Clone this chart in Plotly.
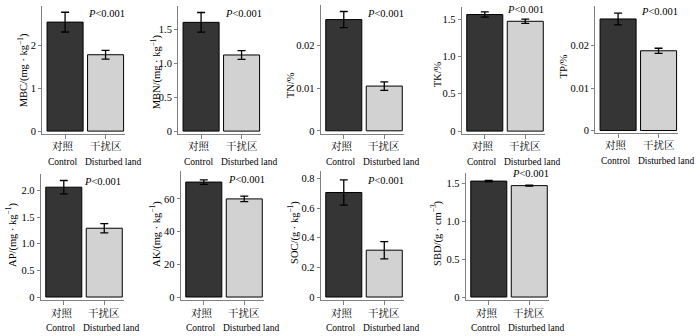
import plotly.graph_objects as go

# ---------------- data ----------------
cat_cn = ["对照", "干扰区"]
cat_en = ["Control", "Disturbed land"]
panel_names = ["MBC", "MBN", "TN", "TK", "TP", "AP", "AK", "SOC", "SBD"]
y_titles = [
    "MBC/(mg · kg<sup>−1</sup>)",
    "MBN/(mg · kg<sup>−1</sup>)",
    "TN/%",
    "TK/%",
    "TP/%",
    "AP/(mg · kg<sup>−1</sup>)",
    "AK/(mg · kg<sup>−1</sup>)",
    "SOC/(g · kg<sup>−1</sup>)",
    "SBD/(g · cm<sup>−3</sup>)",
]
mbc = [2.54, 1.78]
mbc_err = [0.23, 0.10]
mbn = [1.60, 1.12]
mbn_err = [0.145, 0.065]
tn = [0.0261, 0.0105]
tn_err = [0.0019, 0.0010]
tk = [1.56, 1.47]
tk_err = [0.035, 0.028]
tp = [0.0263, 0.0188]
tp_err = [0.0014, 0.0006]
ap = [2.06, 1.29]
ap_err = [0.125, 0.085]
ak = [70.3, 60.0]
ak_err = [1.4, 1.7]
soc = [0.705, 0.316]
soc_err = [0.085, 0.058]
sbd = [1.535, 1.475]
sbd_err = [0.010, 0.006]
values = [mbc, mbn, tn, tk, tp, ap, ak, soc, sbd]
errors = [mbc_err, mbn_err, tn_err, tk_err, tp_err, ap_err, ak_err, soc_err, sbd_err]
p_label = "<i>P</i>&lt;0.001"

tickvals = [
    [0, 1, 2],
    [0, 0.5, 1.0, 1.5],
    [0, 0.01, 0.02],
    [0, 0.5, 1.0, 1.5],
    [0, 0.01, 0.02],
    [0, 0.5, 1.0, 1.5, 2.0],
    [0, 20, 40, 60],
    [0, 0.2, 0.4, 0.6, 0.8],
    [0, 0.5, 1.0, 1.5],
]
ticktexts = [
    ["0", "1", "2"],
    ["0", "0.5", "1.0", "1.5"],
    ["0", "0.01", "0.02"],
    ["0", "0.5", "1.0", "1.5"],
    ["0", "0.01", "0.02"],
    ["0", "0.5", "1.0", "1.5", "2.0"],
    ["0", "20", "40", "60"],
    ["0", "0.2", "0.4", "0.6", "0.8"],
    ["0", "0.5", "1.0", "1.5"],
]

# ---------------- layout (pixels) ----------------
W, H = 700, 336
axis_left = [42, 178, 320.7, 461.7, 595, 40.7, 180.7, 320.7, 465.7]
axis_w = 83
# (top px, bottom px, zero px, px per unit)
yscale = [
    (6, 135, 132.3, 43.3),
    (6, 135, 132.3, 68.6),
    (5, 135, 132.0, 4300),
    (6.7, 135, 132.3, 75.4),
    (6, 134, 131.7, 4280),
    (176, 303, 299.7, 53.8),
    (173, 303, 299.7, 1.65),
    (173, 303, 299.7, 149.6),
    (175, 303, 299.7, 76.2),
]
title_pos = [(23, 71), (156, 73), (290, 86), (437, 75), (563, 67),
             (11, 237), (155, 236), (293, 235), (436, 235)]
p_pos = [(106, 14), (243, 14), (385, 14), (525, 10), (659, 12),
         (102, 183), (246, 181), (385, 182), (530, 175)]

FONT = "Liberation Serif, Times New Roman, Noto Serif CJK SC, Noto Sans CJK SC, serif"
CJK = "Noto Serif CJK SC, Noto Sans CJK SC, serif"
dark = "#353535"
light = "#d2d2d2"
axis_col = "#808080"

fig = go.Figure()
annotations = []
for i in range(9):
    n = "" if i == 0 else str(i + 1)
    fig.add_trace(go.Bar(
        x=[0, 1], y=values[i],
        width=0.89,
        marker=dict(color=[dark, light], line=dict(color="black", width=1)),
        error_y=dict(type="data", array=errors[i], visible=True,
                     color="black", thickness=1.3, width=4),
        xaxis="x" + n, yaxis="y" + n, showlegend=False,
    ))
    top, bot, zero, upx = yscale[i]
    x0 = axis_left[i] / W
    x1 = (axis_left[i] + axis_w) / W
    y0 = (H - bot) / H
    y1 = (H - top) / H
    rmin = -(bot - zero) / upx
    rmax = (zero - top) / upx
    fig.layout["xaxis" + n] = dict(
        domain=[x0, x1], anchor="y" + n, range=[-0.57, 1.48],
        tickmode="array", tickvals=[0, 1], showticklabels=False,
        showline=True, linecolor=axis_col, linewidth=1,
        ticks="outside", ticklen=4, tickcolor=axis_col,
        showgrid=False, zeroline=False, fixedrange=True,
    )
    fig.layout["yaxis" + n] = dict(
        domain=[y0, y1], anchor="x" + n, range=[rmin, rmax],
        tickmode="array", tickvals=tickvals[i], ticktext=ticktexts[i],
        showline=True, linecolor=axis_col, linewidth=1,
        ticks="outside", ticklen=3, tickcolor=axis_col,
        showgrid=False, zeroline=False, fixedrange=True,
        tickfont=dict(family=FONT, size=10.5, color="black"),
    )
    # category labels (two lines) anchored to the x axis categories
    for k in range(2):
        annotations.append(dict(
            x=k, y=(H - bot - 12) / H, xref="x" + n, yref="paper",
            text=cat_cn[k], showarrow=False, xanchor="center", yanchor="middle",
            xshift=-2 if k == 0 else 0,
            font=dict(family=CJK, size=10.5, color="black"),
        ))
        annotations.append(dict(
            x=k, y=(H - bot - 28) / H, xref="x" + n, yref="paper",
            text=cat_en[k], showarrow=False, xanchor="center", yanchor="middle",
            xshift=-3 if k == 0 else 7,
            font=dict(family=FONT, size=9.5, color="black"),
        ))
    tx, ty = title_pos[i]
    annotations.append(dict(
        x=tx / W, y=(H - ty) / H, xref="paper", yref="paper",
        text=y_titles[i], textangle=-90, showarrow=False,
        xanchor="center", yanchor="middle",
        font=dict(family=FONT, size=10.5, color="black"),
    ))
    px, py = p_pos[i]
    annotations.append(dict(
        x=px / W, y=(H - py) / H, xref="paper", yref="paper",
        text=p_label, showarrow=False,
        xanchor="center", yanchor="middle",
        font=dict(family=FONT, size=10.5, color="black"),
    ))

fig.update_layout(
    width=W, height=H,
    margin=dict(l=0, r=0, t=0, b=0),
    paper_bgcolor="white", plot_bgcolor="white",
    annotations=annotations,
    bargap=0,
    hovermode=False,
)
fig.write_html(
    "out.html",
    config={"displayModeBar": False, "staticPlot": True},
    post_script="document.body.style.margin='0';document.body.style.padding='0';",
)
